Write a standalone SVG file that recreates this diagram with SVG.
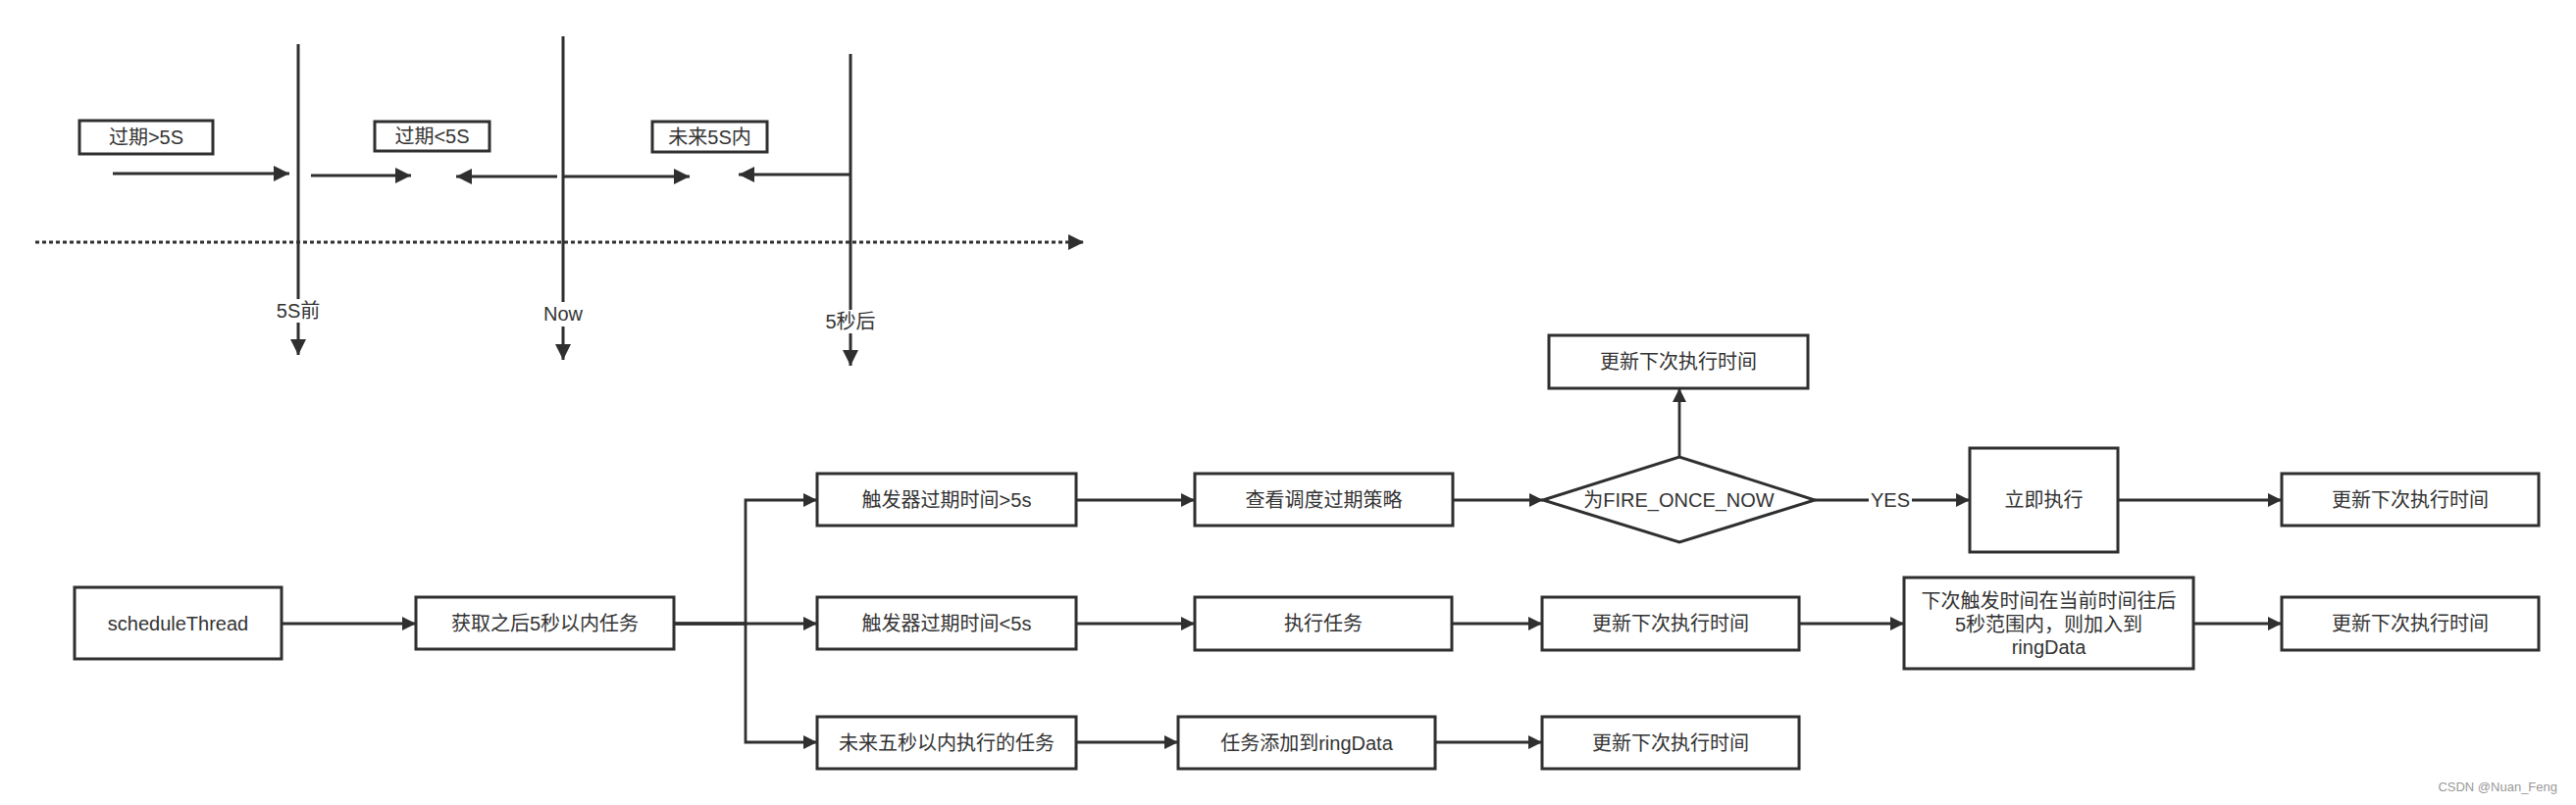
<svg xmlns="http://www.w3.org/2000/svg" width="2626" height="821" viewBox="0 0 2626 821">
<style>
.box{fill:#fff;stroke:#2f2f2f;stroke-width:3}
.t{font-family:"Liberation Sans","Noto Sans CJK SC",sans-serif;font-size:20px;fill:#333;text-anchor:middle;dominant-baseline:central}
.ar{fill:none;stroke:#2f2f2f;stroke-width:2.8;marker-end:url(#a)}
.arL{fill:none;stroke:#2f2f2f;stroke-width:3;marker-end:url(#aL)}
.bg{fill:#fff}
</style>
<defs>
<marker id="a" viewBox="0 0 10 10" refX="10" refY="5" markerUnits="userSpaceOnUse" markerWidth="20" markerHeight="14" orient="auto"><path d="M0,0 L10,5 L0,10 z" fill="#2f2f2f"/></marker>
<marker id="aL" viewBox="0 0 10 10" refX="10" refY="5" markerUnits="userSpaceOnUse" markerWidth="22" markerHeight="16" orient="auto"><path d="M0,0 L10,5 L0,10 z" fill="#2f2f2f"/></marker>
</defs>
<rect width="2626" height="821" fill="#fff"/>

<g id="timeline">
<path class="arL" d="M36,247 H1105" stroke-dasharray="4 3"/>
<path class="arL" d="M304,45 V362"/>
<path class="arL" d="M574,37 V367"/>
<path class="arL" d="M867,55 V373"/>
<rect class="bg" x="281" y="305" width="46" height="24"/>
<text class="t" x="304" y="317">5S前</text>
<rect class="bg" x="551" y="308" width="46" height="25"/>
<text class="t" x="574" y="320">Now</text>
<rect class="bg" x="839" y="316" width="56" height="24"/>
<text class="t" x="867" y="328">5秒后</text>
<path class="arL" d="M115,177 H295"/>
<path class="arL" d="M317,179 H419"/>
<path class="arL" d="M568,180 H465"/>
<path class="arL" d="M575,180 H703"/>
<path class="arL" d="M867,178 H753"/>
</g>
<g id="n-expired-gt5">
<rect class="box" x="81" y="123" width="136" height="34"/>
<text class="t" x="149" y="140">过期&gt;5S</text>
</g>
<g id="n-expired-lt5">
<rect class="box" x="382" y="124" width="117" height="30"/>
<text class="t" x="440.5" y="139">过期&lt;5S</text>
</g>
<g id="n-future5">
<rect class="box" x="665" y="124" width="117" height="31"/>
<text class="t" x="723.5" y="139.5">未来5S内</text>
</g>

<g id="connectors">
<path class="ar" d="M287,636 H424"/>
<path class="ar" d="M687,636 H760 V510 H833"/>
<path class="ar" d="M687,636 H833"/>
<path class="ar" d="M687,636 H760 V757 H833"/>
<path class="ar" d="M1097,510 H1218"/>
<path class="ar" d="M1481,510 H1573"/>
<path class="ar" d="M1712,466 V396"/>
<path class="ar" d="M1850,510 H2008"/>
<rect class="bg" x="1905" y="499" width="44" height="22"/>
<text class="t" x="1927" y="510">YES</text>
<path class="ar" d="M2159,510 H2326"/>
<path class="ar" d="M1097,636 H1218"/>
<path class="ar" d="M1480,636 H1572"/>
<path class="ar" d="M1834,636 H1941"/>
<path class="ar" d="M2236,636 H2326"/>
<path class="ar" d="M1097,757 H1201"/>
<path class="ar" d="M1463,757 H1572"/>
</g>

<g id="n-scheduleThread">
<rect class="box" x="76" y="599" width="211" height="73"/>
<text class="t" x="181.5" y="635.5">scheduleThread</text>
</g>
<g id="n-fetch">
<rect class="box" x="424" y="609" width="263" height="53"/>
<text class="t" x="555.5" y="635.5">获取之后5秒以内任务</text>
</g>
<g id="n-trigger-gt5">
<rect class="box" x="833" y="483" width="264" height="53"/>
<text class="t" x="965" y="509.5">触发器过期时间&gt;5s</text>
</g>
<g id="n-trigger-lt5">
<rect class="box" x="833" y="609" width="264" height="53"/>
<text class="t" x="965" y="635.5">触发器过期时间&lt;5s</text>
</g>
<g id="n-future-tasks">
<rect class="box" x="833" y="731" width="264" height="53"/>
<text class="t" x="965" y="757.5">未来五秒以内执行的任务</text>
</g>
<g id="n-check-policy">
<rect class="box" x="1218" y="483" width="263" height="53"/>
<text class="t" x="1349.5" y="509.5">查看调度过期策略</text>
</g>
<g id="n-diamond">
<polygon class="box" points="1573,510 1712,466 1850,510 1712,553"/>
<text class="t" x="1711.5" y="510">为FIRE_ONCE_NOW</text>
</g>
<g id="n-update-top">
<rect class="box" x="1579" y="342" width="264" height="54"/>
<text class="t" x="1711" y="369">更新下次执行时间</text>
</g>
<g id="n-run-now">
<rect class="box" x="2008" y="457" width="151" height="106"/>
<text class="t" x="2083.5" y="510">立即执行</text>
</g>
<g id="n-update-r1">
<rect class="box" x="2326" y="483" width="262" height="53"/>
<text class="t" x="2457" y="509.5">更新下次执行时间</text>
</g>
<g id="n-exec-task">
<rect class="box" x="1218" y="609" width="262" height="54"/>
<text class="t" x="1349" y="636">执行任务</text>
</g>
<g id="n-update-r2a">
<rect class="box" x="1572" y="609" width="262" height="54"/>
<text class="t" x="1703" y="636">更新下次执行时间</text>
</g>
<g id="n-next-trigger">
<rect class="box" x="1941" y="589" width="295" height="93"/>
<text class="t" x="2088.5" y="613">下次触发时间在当前时间往后</text>
<text class="t" x="2088.5" y="637">5秒范围内，则加入到</text>
<text class="t" x="2088.5" y="660">ringData</text>
</g>
<g id="n-update-r2b">
<rect class="box" x="2326" y="609" width="262" height="54"/>
<text class="t" x="2457" y="636">更新下次执行时间</text>
</g>
<g id="n-add-ring">
<rect class="box" x="1201" y="731" width="262" height="53"/>
<text class="t" x="1332" y="757.5">任务添加到ringData</text>
</g>
<g id="n-update-r3">
<rect class="box" x="1572" y="731" width="262" height="53"/>
<text class="t" x="1703" y="757.5">更新下次执行时间</text>
</g>

<text x="2607" y="802" font-family="Liberation Sans, sans-serif" font-size="13" fill="#999" text-anchor="end" dominant-baseline="central">CSDN @Nuan_Feng</text>
</svg>
